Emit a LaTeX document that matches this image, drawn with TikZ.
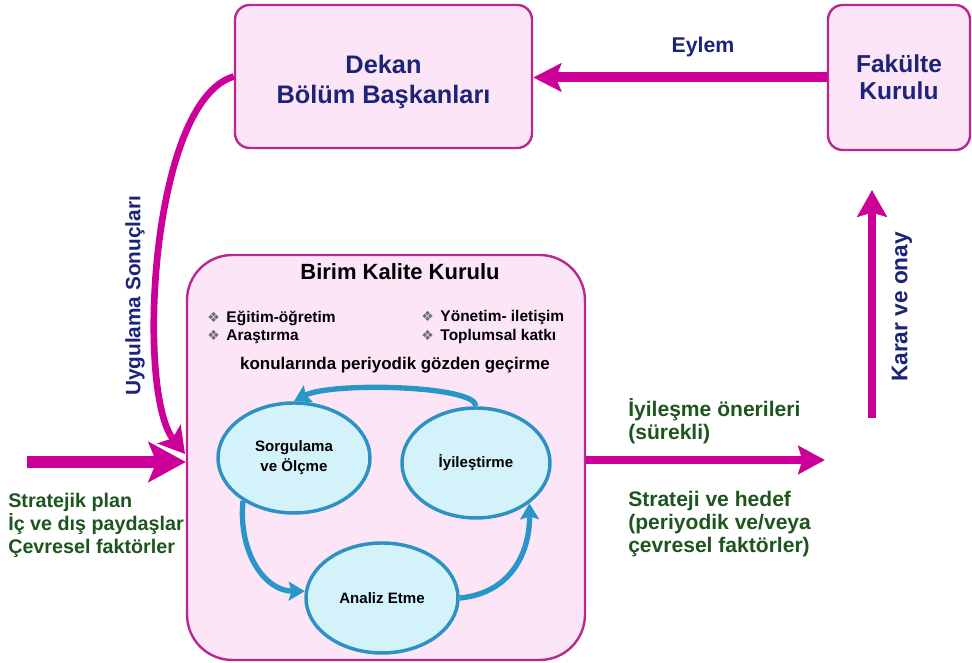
\documentclass[tikz,border=0pt]{standalone}
\usepackage{fontspec}
\setmainfont{Liberation Sans}
\newfontfamily\bulletfont{DejaVu Sans}
\usetikzlibrary{arrows.meta,shapes.geometric}
\definecolor{magarrow}{RGB}{204,0,153}
\definecolor{boxedge}{RGB}{185,40,145}
\definecolor{boxfill}{RGB}{252,229,246}
\definecolor{navytext}{RGB}{28,36,122}
\definecolor{greentext}{RGB}{30,85,30}
\definecolor{ellfill}{RGB}{212,242,250}
\definecolor{elledge}{RGB}{45,145,195}
\definecolor{cyclecol}{RGB}{40,150,200}
\definecolor{bulletgray}{RGB}{110,110,110}
\newcommand{\dia}{{\bulletfont\color{bulletgray}\fontsize{10.5}{10.5}\selectfont ❖}\hspace{5pt}}

\begin{document}
\begin{tikzpicture}[line cap=round,line join=round,x=0.75pt,y=0.75pt,
	pinkbox/.style={draw=boxedge,line width=1.8pt,fill=boxfill,rounded corners=11pt,align=center,inner sep=0pt},
	ellbox/.style={ellipse,draw=elledge,line width=2.6pt,fill=ellfill,minimum width=114pt,minimum height=82.5pt,inner sep=0pt,align=center,font=\fontsize{11.3}{15}\selectfont\bfseries},
	flowarrow/.style={draw=magarrow,line width=7pt,line cap=butt},
	cyclearrow/.style={draw=cyclecol,line width=4pt,line cap=butt,-{Stealth[length=12pt,width=14pt,inset=2pt]}},
	navylabel/.style={text=navytext,font=\bfseries,align=center},
	greenlabel/.style={text=greentext,align=left,anchor=west,inner sep=0pt}]
		\fill[white] (0,0) rectangle (972,663);
		\useasboundingbox (0,0) rectangle (972,663);
		% boxes
		\node[pinkbox,minimum width=222.75pt,minimum height=107.25pt] (dekan) at (383.5,586.5) {};
		\node[navylabel,font=\fontsize{19}{22.5}\selectfont\bfseries] (dekantext) at (383.5,581) {Dekan\\Bölüm Başkanları};
		\node[pinkbox,minimum width=106.5pt,minimum height=108.75pt,text=navytext,font=\fontsize{18.4}{20.5}\selectfont\bfseries] (fakulte) at (899,585.5) {Fakülte\\Kurulu};
		\node[pinkbox,rounded corners=34pt,minimum width=298.5pt,minimum height=303.75pt] (birim) at (386,205.5) {};
		% inside the quality board
		\node[font=\fontsize{16.5}{18}\selectfont\bfseries] (birimtitle) at (400,391) {Birim Kalite Kurulu};
		\node[anchor=west,inner sep=0pt,font=\fontsize{11.6}{13}\selectfont\bfseries] (egitim) at (207,345) {\dia Eğitim-öğretim};
		\node[anchor=west,inner sep=0pt,font=\fontsize{11.6}{13}\selectfont\bfseries] (arastirma) at (207,326) {\dia Araştırma};
		\node[anchor=west,inner sep=0pt,font=\fontsize{11.6}{13}\selectfont\bfseries] (yonetim) at (421,345) {\dia Yönetim- iletişim};
		\node[anchor=west,inner sep=0pt,font=\fontsize{11.6}{13}\selectfont\bfseries] (toplumsal) at (421,326) {\dia Toplumsal katkı};
		\node[font=\fontsize{12.7}{14}\selectfont\bfseries] (gozden) at (395,298) {konularında periyodik gözden geçirme};
		\node[ellbox] (sor) at (294,205) {Sorgulama\\ve Ölçme};
		\node[ellbox,minimum width=111pt] (iyi) at (476,200) {İyileştirme};
		\node[ellbox] (ana) at (382,65) {Analiz Etme};
		\draw[cyclearrow] (iyi.north) .. controls (476,278) and (330,281) .. (sor.north);
		\draw[cyclearrow] (sor.220) .. controls (238,110) and (265,72) .. (ana.175);
		\draw[cyclearrow] (ana.east) .. controls (512,70) and (530,112) .. (iyi.-37);
		% flow arrows
		\coordinate (inL) at (27,201);
		\coordinate (outR) at (825,203);
		\coordinate (kararS) at (872,245);
		\coordinate (kararE) at (872,473);
		\coordinate (uygE) at (185,209);
		\draw[flowarrow,line width=7.5pt,-{Stealth[length=21pt,width=21pt,inset=4pt]}] (fakulte.west) -- (fakulte.west -| dekan.east);
		\draw[flowarrow,line width=6.5pt,-{Stealth[length=20pt,width=22pt,inset=3pt]}] (kararS) -- (kararE);
		\draw[flowarrow,line width=5pt,-{Stealth[length=19pt,width=22pt,inset=4pt]}] (dekan.west) .. controls (150,562) and (136,270) .. (uygE);
		\draw[flowarrow,line width=9pt,-{Stealth[length=28pt,width=30pt,inset=6pt]}] (inL) -- (inL -| birim.west);
		\draw[flowarrow,line width=6pt,-{Stealth[length=20pt,width=21pt,inset=3pt]}] (birim.east |- outR) -- (outR);
		% labels
		\node[navylabel,font=\fontsize{16}{18}\selectfont\bfseries] (eylem) at (703,616) {Eylem};
		\node[navylabel,rotate=90,font=\fontsize{17}{19}\selectfont\bfseries] (karar) at (902,356) {Karar ve onay};
		\node[navylabel,rotate=90,font=\fontsize{15.6}{18}\selectfont\bfseries] (uygulama) at (135,367) {Uygulama Sonuçları};
		\node[greenlabel,font=\fontsize{14.8}{17.25}\selectfont\bfseries] (girdi) at (8,137.5) {Stratejik plan\\İç ve dış paydaşlar\\Çevresel faktörler};
		\node[greenlabel,font=\fontsize{15.8}{17.25}\selectfont\bfseries] (oneri) at (628,241.5) {İyileşme önerileri\\(sürekli)};
		\node[greenlabel,font=\fontsize{15.8}{17.25}\selectfont\bfseries] (strateji) at (628,138.5) {Strateji ve hedef\\(periyodik ve/veya\\çevresel faktörler)};
	\end{tikzpicture}
\end{document}
